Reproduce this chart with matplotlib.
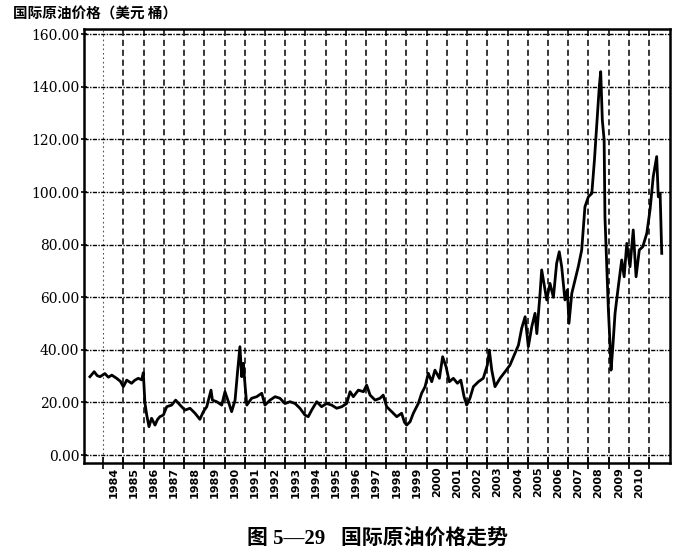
import numpy as np
import matplotlib
matplotlib.use("Agg")
from matplotlib import pyplot as plt

# точки: год (дробный) и цена, долл./барр.
years = [1983.34, 1983.55, 1983.70, 1983.84, 1984.08, 1984.25, 1984.42, 1984.66, 1984.85, 1984.99,
         1985.16, 1985.40, 1985.55, 1985.73, 1985.90, 1985.98, 1986.06, 1986.15, 1986.26, 1986.39,
         1986.56, 1986.68, 1986.80, 1986.97, 1987.14, 1987.38, 1987.58, 1987.80, 1988.04, 1988.29,
         1988.54, 1988.78, 1988.95, 1989.12, 1989.33, 1989.40, 1989.61, 1989.86, 1990.02, 1990.19,
         1990.35, 1990.52, 1990.65, 1990.76, 1990.85, 1990.93, 1991.02, 1991.10, 1991.34, 1991.59,
         1991.84, 1992.00, 1992.25, 1992.50, 1992.74, 1992.99, 1993.24, 1993.49, 1993.73, 1993.98,
         1994.14, 1994.31, 1994.56, 1994.80, 1995.05, 1995.30, 1995.55, 1995.80, 1996.04, 1996.21,
         1996.37, 1996.62, 1996.87, 1997.03, 1997.20, 1997.45, 1997.69, 1997.85, 1998.02, 1998.27,
         1998.52, 1998.76, 1998.90, 1999.01, 1999.18, 1999.34, 1999.59, 1999.75, 1999.92, 2000.08,
         2000.25, 2000.41, 2000.63, 2000.79, 2000.96, 2001.12, 2001.32, 2001.52, 2001.69, 2001.85,
         2001.98, 2002.14, 2002.31, 2002.56, 2002.80, 2003.00, 2003.10, 2003.22, 2003.38, 2003.63,
         2003.88, 2004.12, 2004.37, 2004.54, 2004.70, 2004.87, 2005.03, 2005.20, 2005.36, 2005.45,
         2005.61, 2005.69, 2005.94, 2006.10, 2006.27, 2006.43, 2006.56, 2006.68, 2006.84, 2006.96,
         2007.04, 2007.18, 2007.34, 2007.50, 2007.67, 2007.83, 2008.00, 2008.17, 2008.30, 2008.41,
         2008.54, 2008.61, 2008.69, 2008.78, 2008.82, 2008.91, 2008.99, 2009.07, 2009.12, 2009.20,
         2009.32, 2009.48, 2009.65, 2009.77, 2009.90, 2010.06, 2010.22, 2010.36, 2010.52, 2010.69,
         2010.89, 2011.05, 2011.21, 2011.38, 2011.46, 2011.55, 2011.63]
prices = [29.8, 31.7, 30.2, 29.8, 31.0, 29.6, 30.4, 29.2, 28.0, 26.0,
          28.5, 27.3, 28.4, 29.2, 28.6, 31.3, 19.8, 15.2, 10.8, 14.0,
          11.4, 13.5, 14.6, 15.2, 18.4, 19.0, 20.9, 19.0, 17.1, 17.8,
          15.9, 13.6, 16.5, 18.4, 24.7, 20.9, 20.3, 19.0, 24.1, 20.3,
          16.5, 20.9, 32.3, 41.2, 29.8, 34.9, 26.0, 19.0, 21.6, 22.2,
          23.5, 19.0, 20.9, 22.2, 21.6, 19.6, 20.3, 19.6, 17.8, 15.2,
          14.6, 17.1, 20.3, 18.4, 19.6, 19.0, 17.8, 18.4, 19.6, 24.1,
          22.2, 24.7, 24.1, 26.6, 22.8, 20.9, 21.6, 22.8, 18.4, 16.5,
          14.6, 15.9, 12.5, 11.4, 12.7, 15.9, 19.7, 23.5, 26.0, 31.1,
          27.9, 32.3, 29.2, 37.4, 33.6, 27.9, 29.2, 27.3, 28.5, 22.2,
          19.0, 21.6, 26.0, 27.9, 29.2, 34.2, 39.9, 32.3, 26.0, 29.2,
          31.7, 34.2, 38.7, 41.8, 48.2, 52.6, 41.2, 48.8, 53.9, 46.2,
          61.5, 70.4, 59.0, 65.3, 60.0, 72.9, 77.3, 71.6, 59.0, 62.8,
          50.1, 61.5, 66.6, 71.6, 78.0, 94.4, 98.2, 99.5, 112.2, 124.9,
          140.1, 145.8, 127.4, 119.8, 90.6, 71.6, 55.2, 42.5, 32.3, 40.0,
          53.9, 64.0, 74.2, 67.8, 80.5, 71.6, 85.6, 67.8, 78.0, 79.2,
          84.3, 93.2, 105.9, 113.5, 98.2, 99.5, 76.7]

y_ticks = [0, 20, 40, 60, 80, 100, 120, 140, 160]
y_labels = ['0.00', '20.00', '40.00', '60.00', '80.00', '100.00', '120.00', '140.00', '160.00']
year_labels = [str(y) for y in range(1984, 2011)]

fig = plt.figure(figsize=(6.77, 5.55), dpi=100)
ax = fig.add_axes([0.1245, 0.1663, 0.8652, 0.7809])

ax.set_xlim(1983.06, 2012.04)
ax.set_ylim(-2.9, 161.9)

# сетка
for yr in range(1984, 2012):
    if yr == 1984:
        ax.axvline(yr, color='#555555', lw=0.8, ls=(0, (1.5, 2.5)), zorder=1)
    else:
        ax.axvline(yr, color='black', lw=1.1, ls=(0, (4, 2.5)), zorder=1)
for v in y_ticks:
    ax.axhline(v, color='black', lw=1.0, ls=(0, (3, 1, 1, 1)), zorder=1)

ax.plot(years, prices, color='black', lw=2.0, zorder=3)

for s in ax.spines.values():
    s.set_linewidth(1.8)

ax.set_yticks(y_ticks)
ax.set_yticklabels(y_labels, family='DejaVu Serif', fontsize=10)
ax.tick_params(axis='y', direction='inout', length=5, width=1.2, pad=1)

ax.set_xticks(range(1984, 2012))
ax.set_xticklabels([])
ax.set_xticks([y + 0.5 for y in range(1984, 2011)], minor=True)
ax.set_xticklabels(year_labels, minor=True, rotation=90, fontsize=8,
                   fontweight='bold', family='DejaVu Sans')
ax.tick_params(axis='x', which='major', direction='inout', length=8, width=1.2)
ax.tick_params(axis='x', which='minor', length=0, pad=3)

fig.text(13 / 677, 1 - 14 / 555, '国际原油价格（美元 桶）', fontsize=10.5, fontweight='bold',
         family=['Noto Sans CJK SC', 'DejaVu Sans'], va='center', ha='left')
fig.text(0.5576, 1 - 540 / 555, '图 5—29   国际原油价格走势', fontsize=15, fontweight='bold',
         family=['Liberation Serif', 'Noto Sans CJK SC'], va='center', ha='center')

fig.savefig('out.png', dpi=100)
